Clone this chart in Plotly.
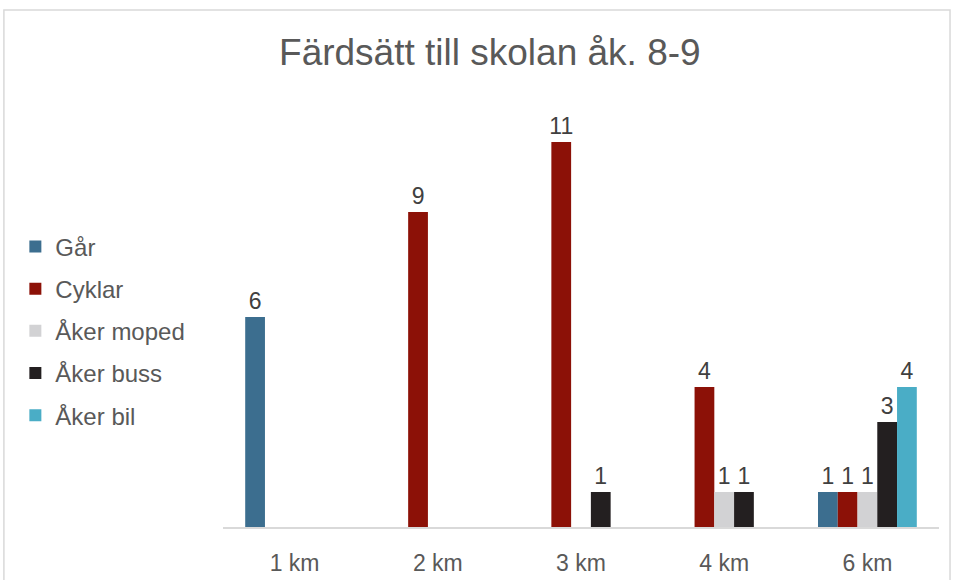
import plotly.graph_objects as go

categories = ["1 km", "2 km", "3 km", "4 km", "6 km"]
series_names = ["Går", "Cyklar", "Åker moped", "Åker buss", "Åker bil"]
gar = [6, 0, 0, 0, 1]
cyklar = [0, 9, 11, 4, 1]
aker_moped = [0, 0, 0, 1, 1]
aker_buss = [0, 0, 1, 1, 3]
aker_bil = [0, 0, 0, 0, 4]

colors = ["#3C6E8F", "#8C1107", "#D2D2D4", "#231F20", "#4AADC6"]
values = [gar, cyklar, aker_moped, aker_buss, aker_bil]

fig = go.Figure()

for i, (name, vals) in enumerate(zip(series_names, values)):
    fig.add_trace(
        go.Bar(
            x=categories,
            y=vals,
            name=name,
            marker=dict(color=colors[i], line=dict(width=0)),
            text=[str(v) if v else "" for v in vals],
            textposition="outside",
            constraintext="none",
            textfont=dict(size=23, color="#404040"),
            cliponaxis=False,
            legendgroup=f"g{i}",
        )
    )

fig.update_layout(
    width=953,
    height=580,
    barmode="group",
    bargap=0.31,
    bargroupgap=0,
    plot_bgcolor="white",
    paper_bgcolor="white",
    font=dict(family="Liberation Sans, Arial, sans-serif", color="#595959"),
    margin=dict(l=223, r=14, t=107, b=53),
    title=dict(
        text="Färdsätt till skolan åk. 8-9",
        x=0.514,
        xanchor="center",
        y=0.91,
        yanchor="middle",
        font=dict(size=37, color="#595959"),
    ),
    legend=dict(
        x=-0.29,
        xanchor="left",
        y=0.467,
        yanchor="middle",
        font=dict(size=24, color="#595959"),
        tracegroupgap=8,
        itemwidth=30,
    ),
    shapes=[
        dict(
            type="rect",
            xref="paper",
            yref="paper",
            x0=-0.306,
            x1=1.0154,
            y0=-0.2,
            y1=1.231,
            line=dict(color="#D9D9D9", width=1.5),
            fillcolor="rgba(0,0,0,0)",
            layer="below",
        )
    ],
)

fig.update_xaxes(
    showline=True,
    linecolor="#D9D9D9",
    linewidth=2,
    showgrid=False,
    ticks="",
    automargin=False,
    ticklabelstandoff=14,
    tickfont=dict(size=23, color="#595959"),
)
fig.update_yaxes(visible=False, range=[0, 12], automargin=False)

fig.write_html(
    "out.html",
    config={"displayModeBar": False},
    post_script="document.body.style.margin='0';document.body.style.overflow='hidden';",
)
